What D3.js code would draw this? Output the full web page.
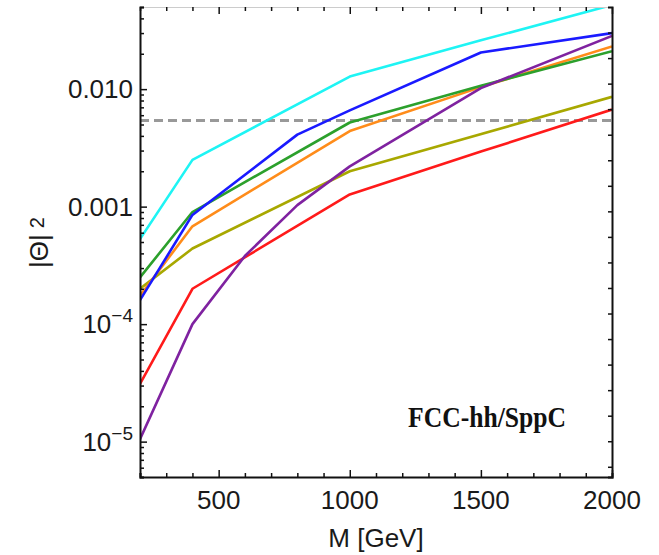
<!DOCTYPE html>
<html>
<head>
<meta charset="utf-8">
<script src="https://cdn.jsdelivr.net/npm/d3@7"></script>
<style>
  body { margin: 0; background: #fff; }
  text { font-family: "Liberation Sans", Arial, sans-serif; }
</style>
</head>
<body>
<script>
var width = 659, height = 555;
var plotLeft = 140, plotRight = 612, plotTop = 7, plotBottom = 477;

// ---- data ----
var cyanM   = [200, 400, 1000, 1500, 2000];
var cyanV   = [5.3e-4, 2.5e-3, 0.0128, 0.026, 0.052];
var redM    = [200, 400, 1000, 1500, 2000];
var redV    = [3.1e-5, 2.0e-4, 1.27e-3, 2.94e-3, 6.7e-3];
var oliveM  = [200, 400, 1000, 2000];
var oliveV  = [2.0e-4, 4.4e-4, 2.0e-3, 8.6e-3];
var orangeM = [200, 400, 1000, 1500, 2000];
var orangeV = [1.75e-4, 6.8e-4, 4.4e-3, 0.0104, 0.0231];
var greenM  = [200, 400, 1000, 1500, 2000];
var greenV  = [2.5e-4, 9.0e-4, 5.2e-3, 0.0107, 0.021];
var blueM   = [200, 400, 800, 1000, 1500, 2000];
var blueV   = [1.6e-4, 8.5e-4, 4.1e-3, 6.6e-3, 0.0205, 0.030];
var purpleM = [200, 400, 600, 800, 1000, 1500, 2000];
var purpleV = [1.05e-5, 1.0e-4, 3.8e-4, 1.03e-3, 2.2e-3, 0.0102, 0.0284];

var seriesNames  = ["cyan", "red", "olive", "orange", "green", "blue", "purple"];
var seriesColors = ["#1ef4f4", "#ff1a1a", "#a8a800", "#ff8c1a", "#2ca02c", "#1a1aff", "#7f22a0"];
var seriesM = [cyanM, redM, oliveM, orangeM, greenM, blueM, purpleM];
var seriesV = [cyanV, redV, oliveV, orangeV, greenV, blueV, purpleV];

var bound = 0.0054;          // dashed horizontal line
var xMajor = [500, 1000, 1500, 2000];
var yMajor = [1e-5, 1e-4, 1e-3, 1e-2];
var yLabels = ["10|-5", "10|-4", "0.001", "0.010"];

var svg = d3.select("body").append("svg")
    .attr("width", width)
    .attr("height", height);

var x = d3.scaleLinear().domain([200, 2000]).range([plotLeft, plotRight]);
var y = d3.scaleLog().domain([5e-6, 0.05]).range([plotBottom, plotTop]);
// right frame carries evenly spaced ticks
var yr = d3.scaleLinear().domain([-0.4, 18]).range([plotBottom, plotTop]);

svg.append("clipPath").attr("id", "plot")
  .append("rect")
    .attr("x", plotLeft).attr("y", plotTop)
    .attr("width", plotRight - plotLeft).attr("height", plotBottom - plotTop);

//*********** dashed bound *******************
svg.append("line")
    .attr("x1", plotLeft).attr("x2", plotRight)
    .attr("y1", y(bound)).attr("y2", y(bound))
    .attr("stroke", "#999")
    .attr("stroke-width", 3)
    .attr("stroke-dasharray", "9,5");

//*********** curves *******************
var line = d3.line()
    .x(function(d) { return x(d[0]); })
    .y(function(d) { return y(d[1]); });

seriesNames.forEach(function(name, i) {
  var pts = seriesM[i].map(function(m, j) { return [m, seriesV[i][j]]; });
  svg.append("path")
      .attr("class", "curve " + name)
      .attr("clip-path", "url(#plot)")
      .attr("d", line(pts))
      .attr("fill", "none")
      .attr("stroke", seriesColors[i])
      .attr("stroke-width", 2.6)
      .attr("stroke-linejoin", "round");
});

//*********** frame and ticks *******************
var xTicks = d3.range(200, 2001, 100);
var yTicks = y.ticks();

function tickLen(major) { return major ? 7 : 4; }

var bAxis = svg.append("g").attr("transform", "translate(0," + plotBottom + ")")
    .call(d3.axisBottom(x).tickValues(xTicks).tickSize(-4).tickFormat(""));
var tAxis = svg.append("g").attr("transform", "translate(0," + plotTop + ")")
    .call(d3.axisTop(x).tickValues(xTicks).tickSize(-4).tickFormat(""));
[bAxis, tAxis].forEach(function(g, k) {
  g.selectAll(".tick line")
      .attr("y2", function(d) { return (k === 0 ? -1 : 1) * tickLen(xMajor.indexOf(d) >= 0); });
});

var lAxis = svg.append("g").attr("transform", "translate(" + plotLeft + ",0)")
    .call(d3.axisLeft(y).tickValues(yTicks).tickSize(-4).tickFormat(""));
lAxis.selectAll(".tick line")
    .attr("x2", function(d) { return tickLen(yMajor.some(function(v) { return Math.abs(v - d) / v < 1e-6; })); });

var rAxis = svg.append("g").attr("transform", "translate(" + plotRight + ",0)")
    .call(d3.axisRight(yr).tickValues(d3.range(0, 18)).tickSize(-4).tickFormat(""));

svg.selectAll(".domain").attr("stroke", "#111").attr("stroke-width", 2);
tAxis.select(".domain").attr("stroke", "#ccc").attr("stroke-width", 1);
svg.selectAll(".tick line").attr("stroke", "#111").attr("stroke-width", 1.5);

//*********** labels *******************
svg.selectAll(".xlab").data(xMajor).enter().append("text")
    .attr("class", "xlab")
    .attr("x", function(d) { return x(d); })
    .attr("y", 509)
    .attr("text-anchor", "middle")
    .style("font-size", "26px")
    .style("fill", "#1a1a1a")
    .text(function(d) { return d; });

yMajor.forEach(function(v, i) {
  var t = svg.append("text")
      .attr("x", 133)
      .attr("y", y(v) + 9)
      .attr("text-anchor", "end")
      .style("font-size", "26px")
      .style("fill", "#1a1a1a");
  var parts = yLabels[i].split("|");
  if (parts.length === 2) {
    t.append("tspan").text(parts[0]);
    t.append("tspan").attr("dy", -11).style("font-size", "19px").text("\u2212" + parts[1].slice(1));
  } else {
    t.text(parts[0]);
  }
});

svg.append("text")
    .attr("x", (plotLeft + plotRight) / 2)
    .attr("y", 547)
    .attr("text-anchor", "middle")
    .style("font-size", "26px")
    .style("fill", "#1a1a1a")
    .text("M [GeV]");

var yl = svg.append("text")
    .attr("transform", "translate(48,268) rotate(-90)")
    .attr("text-anchor", "start")
    .style("font-size", "26px")
    .style("fill", "#1a1a1a");
yl.append("tspan").text("|\u0398|");
yl.append("tspan").attr("dx", 6).attr("dy", -4).style("font-size", "20px").text("2");

svg.append("text")
    .attr("x", 566)
    .attr("y", 427)
    .attr("text-anchor", "end")
    .attr("textLength", 158)
    .attr("lengthAdjust", "spacingAndGlyphs")
    .style("font-family", "'Liberation Serif', 'DejaVu Serif', serif")
    .style("font-weight", "bold")
    .style("font-size", "29px")
    .style("fill", "#111")
    .text("FCC-hh/SppC");
</script>
</body>
</html>
